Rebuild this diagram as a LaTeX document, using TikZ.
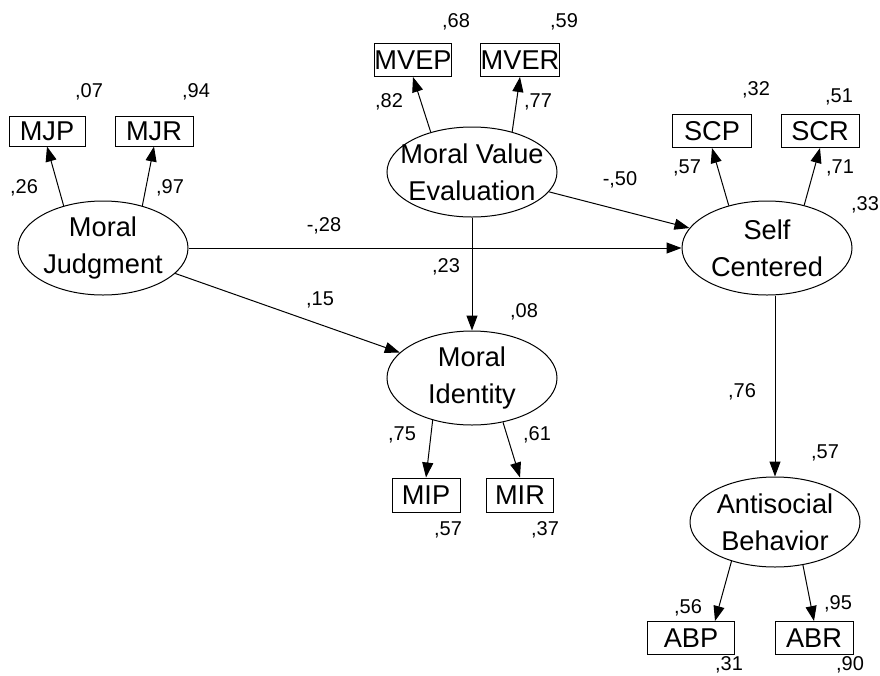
\documentclass[tikz,border=0pt]{standalone}
\usepackage{fontspec}
\setmainfont{Liberation Sans}
\usetikzlibrary{shapes.geometric,arrows.meta,positioning}

\begin{document}
\begin{tikzpicture}[
    x=0.5pt, y=-0.5pt,
    latent/.style={ellipse, draw, line width=0.5pt, minimum width=85pt, minimum height=47pt, inner xsep=-40pt, inner ysep=-10pt, align=center, font=\fontsize{13.6}{18.5}\selectfont},
    observed/.style={rectangle, draw, line width=0.5pt, minimum width=38.5pt, minimum height=16.5pt, inner sep=0pt, font=\fontsize{13.6}{16}\selectfont},
    arrow/.style={line width=0.5pt, -{Triangle[length=7.5pt,width=5.5pt]}},
    coef/.style={inner sep=0pt, font=\fontsize{10}{12}\selectfont}
]
    \useasboundingbox (0,0) rectangle (880,676);

    % Latent variables
    \node [latent] (mj) at (103,248) {Moral\\Judgment};
    \node [latent, minimum height=45pt] (mve) at (472,172) {Moral Value\\Evaluation};
    \node [latent] (sc) at (767,248) {Self\\Centered};
    \node [latent] (mi) at (472,378) {Moral\\Identity};
    \node [latent, minimum height=45pt] (ab) at (775,522) {Antisocial\\Behavior};

    % Indicators
    \node [observed, minimum width=38pt, minimum height=15pt] (mjp) at (47,131) {MJP};
    \node [observed, minimum width=39pt, minimum height=15pt] (mjr) at (154,131) {MJR};
    \node [observed] (mvep) at (413,60) {MVEP};
    \node [observed] (mver) at (520,60) {MVER};
    \node [observed, minimum width=39.5pt] (scp) at (712,131) {SCP};
    \node [observed, minimum width=39pt] (scr) at (820,131) {SCR};
    \node [observed, minimum width=34pt, minimum height=17pt] (mip) at (426,495) {MIP};
    \node [observed, minimum width=33.5pt, minimum height=17pt] (mir) at (520,495) {MIR};
    \node [observed, minimum width=43.5pt] (abp) at (691,638) {ABP};
    \node [observed, minimum width=39pt] (abr) at (814,638) {ABR};

    % Structural paths
    \draw [arrow] (mj) -- (sc);
    \draw [arrow] (mj) -- (mi);
    \draw [arrow] (mve) -- (sc);
    \draw [arrow] (mve) -- (mi);
    \draw [arrow] (sc.south -| ab.north) -- (ab.north);

    % Loadings
    \draw [arrow] (mj.133) -- (mjp.south);
    \draw [arrow] (mj.47) -- (mjr.south);
    \draw [arrow] (mve.136) -- (mvep.south);
    \draw [arrow] (mve.45) -- (mver.south);
    \draw [arrow] (sc.132) -- (scp.south);
    \draw [arrow] (sc.49) -- (scr.south);
    \draw [arrow] (mi.227) -- (mip.north);
    \draw [arrow] (mi.305) -- (mir.north);
    \draw [arrow] (ab.222) -- ([xshift=12pt]abp.north);
    \draw [arrow] (ab.303) -- (abr.north);

    % Coefficients: Moral Judgment
    \node [coef] (r07) at (89,92) {,07};
    \node [coef] (r94) at (196,92) {,94};
    \node [coef] (l26) at (24,188) {,26};
    \node [coef] (l97) at (170,188) {,97};

    % Coefficients: Moral Value Evaluation
    \node [coef] (r68) at (456,22) {,68};
    \node [coef] (r59) at (564,22) {,59};
    \node [coef] (l82) at (389,102) {,82};
    \node [coef] (l77) at (538,102) {,77};

    % Coefficients: Self Centered
    \node [coef] (r32) at (756,90) {,32};
    \node [coef] (r51) at (839,97) {,51};
    \node [coef] (l57sc) at (687,168) {,57};
    \node [coef] (l71) at (840,168) {,71};
    \node [coef] (r33) at (865,205) {,33};

    % Coefficients: paths
    \node [coef] (b28) at (324,226) {-,28};
    \node [coef] (b15) at (320,300) {,15};
    \node [coef] (b50) at (620,180) {-,50};
    \node [coef] (b23) at (446,267) {,23};
    \node [coef] (b76) at (742,392) {,76};

    % Coefficients: Moral Identity
    \node [coef] (r08) at (524,312) {,08};
    \node [coef] (l75) at (402,435) {,75};
    \node [coef] (l61) at (537,435) {,61};
    \node [coef] (r57mi) at (448,530) {,57};
    \node [coef] (r37) at (545,530) {,37};

    % Coefficients: Antisocial Behavior
    \node [coef] (r57ab) at (825,453) {,57};
    \node [coef] (l56) at (688,608) {,56};
    \node [coef] (l95) at (838,604) {,95};
    \node [coef] (r31) at (729,665) {,31};
    \node [coef] (r90) at (850,665) {,90};
\end{tikzpicture}
\end{document}
